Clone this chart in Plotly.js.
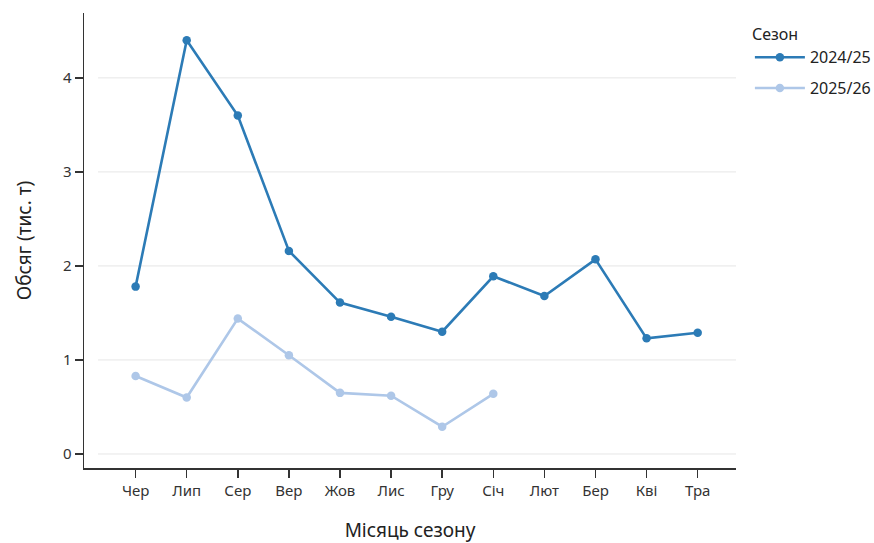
<!DOCTYPE html>
<html>
<head>
<meta charset="utf-8">
<script src="https://cdn.plot.ly/plotly-3.0.1.min.js"></script>
<style>html,body{margin:0;padding:0;background:#fff}#chart{width:874px;height:543px}</style>
</head>
<body>
<div id="chart"></div>
<script>
const months = ["Чер","Лип","Сер","Вер","Жов","Лис","Гру","Січ","Лют","Бер","Кві","Тра"];
const season1Name = "2024/25";
const season1 = [1.78, 4.40, 3.60, 2.16, 1.61, 1.46, 1.30, 1.89, 1.68, 2.07, 1.23, 1.29];
const season2Name = "2025/26";
const season2 = [0.83, 0.60, 1.44, 1.05, 0.65, 0.62, 0.29, 0.64];
const yTicks = [0, 1, 2, 3, 4];

const font = "Noto Sans, Open Sans, sans-serif";
const traces = [
  {x: months.slice(0, season1.length), y: season1, name: season1Name, mode: "lines+markers",
   legendgroup: "a", line: {color: "#2c7bb6", width: 2.6}, marker: {color: "#2c7bb6", size: 8.5}},
  {x: months.slice(0, season2.length), y: season2, name: season2Name, mode: "lines+markers",
   legendgroup: "b", line: {color: "#aec7e8", width: 2.6}, marker: {color: "#aec7e8", size: 8.5}}
];

const shapes = yTicks.map(v => ({type: "line", xref: "paper", yref: "y", x0: 0.0215, x1: 1, y0: v, y1: v,
  line: {color: "#e6e6e6", width: 1}, layer: "below"}));

const layout = {
  width: 874, height: 543,
  margin: {l: 84, r: 138, t: 13, b: 75, autoexpand: false},
  paper_bgcolor: "#fff", plot_bgcolor: "#fff",
  font: {family: font, color: "#333", size: 15},
  showlegend: true,
  legend: {title: {text: "Сезон", font: {size: 16, color: "#222"}}, xref: "container", yref: "container",
    x: 0.858, xanchor: "left", y: 0.964, yanchor: "top",
    font: {size: 16, color: "#222"}, tracegroupgap: 7, traceorder: "grouped", itemwidth: 50},
  xaxis: {type: "category", categoryorder: "array", categoryarray: months, range: [-1.01, 11.75],
    showgrid: false, zeroline: false, showline: true, linecolor: "#333", linewidth: 1.5,
    ticks: "outside", ticklen: 8, tickcolor: "#333", tickwidth: 1.5, tickfont: {size: 15, color: "#333"},
    title: {text: "Місяць сезону", font: {size: 19, color: "#222"}, standoff: 27}},
  yaxis: {range: [-0.149, 4.69], tickvals: yTicks, ticktext: yTicks.map(String),
    showgrid: false, zeroline: false, showline: true, linecolor: "#333", linewidth: 1.5,
    ticks: "outside", ticklen: 8, tickcolor: "#333", tickwidth: 1.5, tickfont: {size: 15, color: "#333"},
    title: {text: "Обсяг (тис. т)", font: {size: 19, color: "#222"}, standoff: 26}},
  shapes: shapes
};
Plotly.newPlot("chart", traces, layout, {displayModeBar: false, staticPlot: true});
</script>
</body>
</html>
